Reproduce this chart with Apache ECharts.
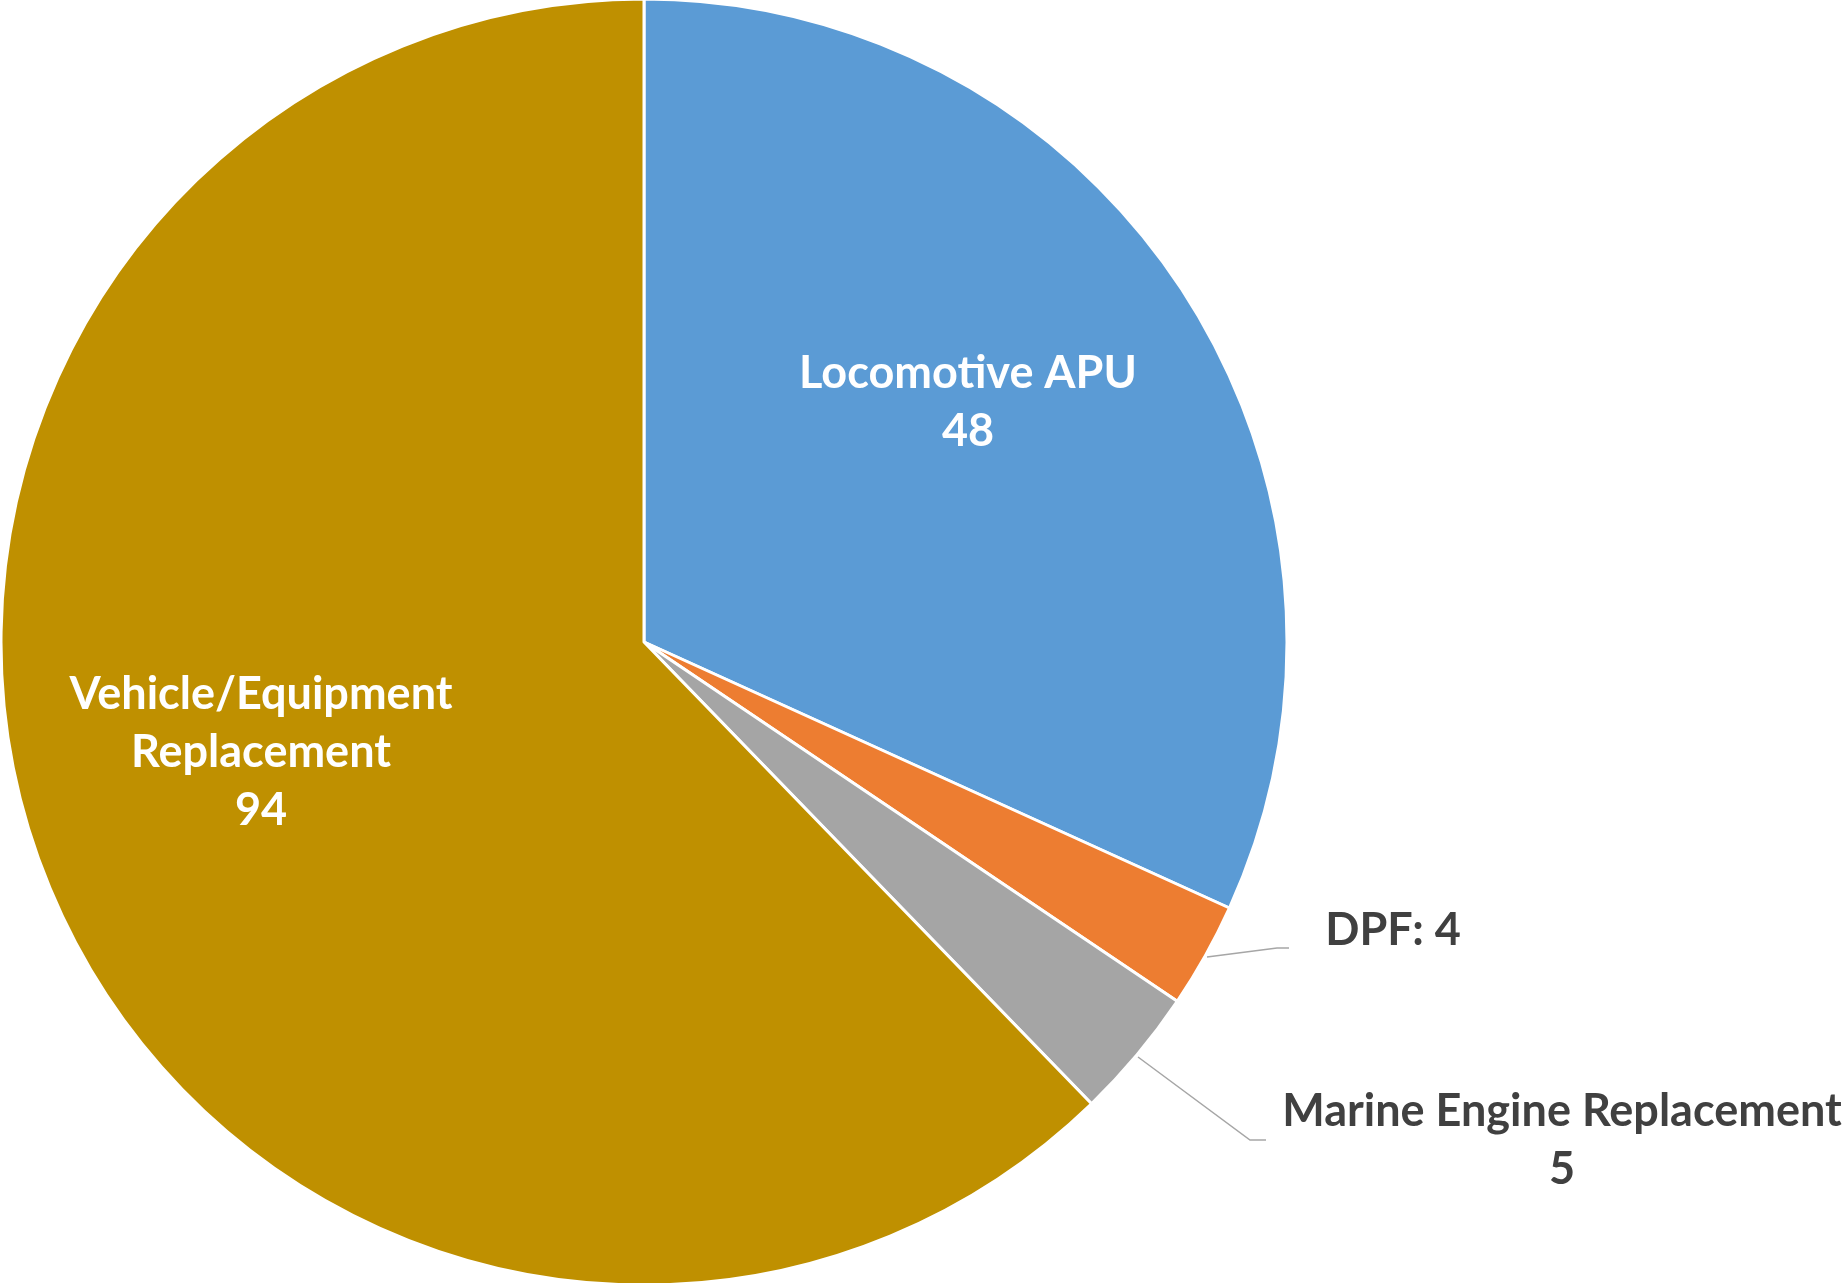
<!DOCTYPE html>
<html>
<head>
<meta charset="utf-8">
<script src="https://cdn.jsdelivr.net/npm/echarts@6/dist/echarts.min.js"></script>
<style>
html,body{margin:0;padding:0;background:#fff;}
#chart{width:1846px;height:1283px;}
</style>
</head>
<body>
<div id="chart"></div>
<script>
const categories = ['Locomotive APU', 'DPF', 'Marine Engine Replacement', 'Vehicle/Equipment\nReplacement'];
const values = [48, 4, 5, 94];
const colors = ['#5B9BD5', '#ED7D31', '#A5A5A5', '#BF9000'];

const chart = echarts.init(document.getElementById('chart'));
const font = 'Lato, "Open Sans", sans-serif';

const data = categories.map((c, i) => {
  const inside = (i === 0 || i === 3);
  return {
    name: c,
    value: values[i],
    itemStyle: { color: colors[i] },
    label: {
      show: true,
      position: inside ? 'inside' : 'outside',
      color: inside ? '#FFFFFF' : '#404040',
      formatter: i === 1 ? '{b}: {c}' : '{b}\n{c}'
    },
    labelLine: { show: !inside }
  };
});

chart.setOption({
  animation: false,
  backgroundColor: '#FFFFFF',
  series: [{
    type: 'pie',
    center: [644, 642],
    radius: [0, 643],
    startAngle: 90,
    clockwise: true,
    avoidLabelOverlap: false,
    itemStyle: { borderColor: '#FFFFFF', borderWidth: 3 },
    label: {
      fontFamily: font,
      fontWeight: 'bold',
      fontSize: 45,
      lineHeight: 58,
      align: 'center'
    },
    labelLine: {
      lineStyle: { color: '#A6A6A6', width: 1.5 }
    },
    labelLayout: function (p) {
      const pos = [
        { x: 968, y: 402 },
        { x: 1393, y: 930, pts: [[1207, 957], [1277, 948], [1289, 948]] },
        { x: 1562, y: 1140, pts: [[1138, 1057], [1250, 1140], [1266, 1140]] },
        { x: 261, y: 752 }
      ][p.dataIndex];
      const o = { x: pos.x, y: pos.y, align: 'center', verticalAlign: 'middle' };
      if (pos.pts) o.labelLinePoints = pos.pts;
      return o;
    },
    data: data
  }]
});
</script>
</body>
</html>
